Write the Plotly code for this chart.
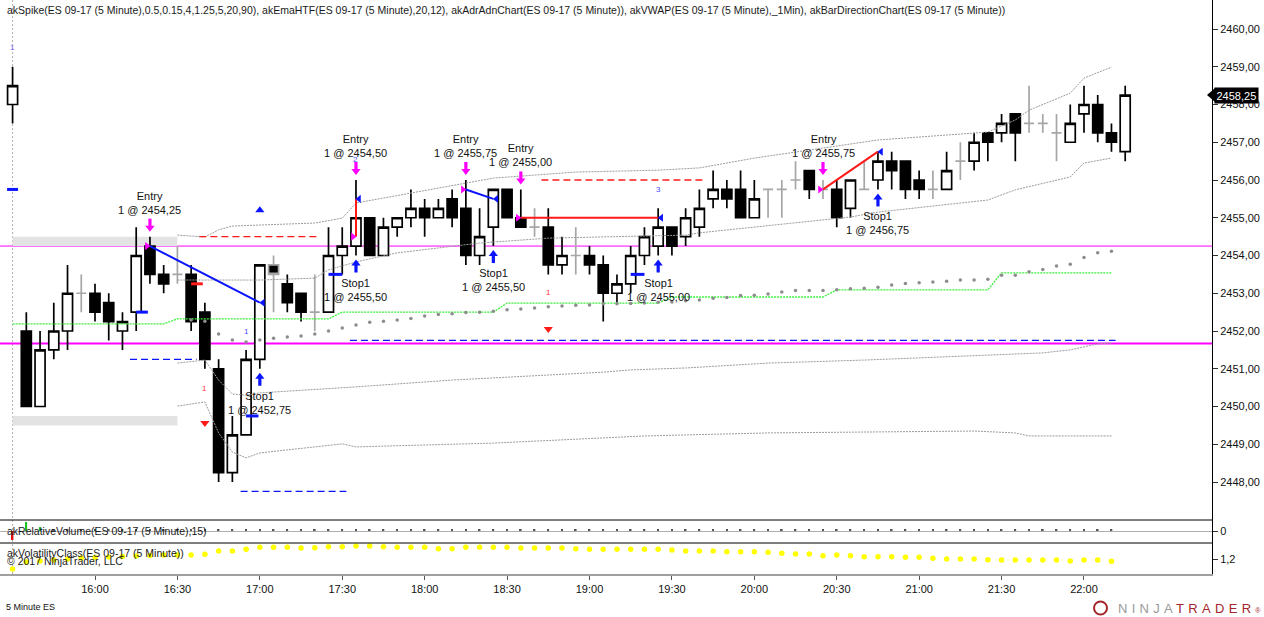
import plotly.graph_objects as go

# ---------------- data ----------------
time_labels = ["16:00", "16:30", "17:00", "17:30", "18:00", "18:30", "19:00",
               "19:30", "20:00", "20:30", "21:00", "21:30", "22:00"]
time_label_bars = [6, 12, 18, 24, 30, 36, 42, 48, 54, 60, 66, 72, 78]
price_ticks = [2448, 2449, 2450, 2451, 2452, 2453, 2454, 2455, 2456, 2457, 2458, 2459, 2460]

opens = [2458.0, 2452.0, 2450.0, 2451.5, 2452.0, 2453.0, 2453.0, 2452.75, 2452.0, 2452.5,
         2454.25, 2453.5, 2453.5, 2453.5, 2452.5, 2451.0, 2448.25, 2449.25, 2451.25, 2453.75,
         2453.25, 2453.0, 2452.5, 2452.5, 2454.0, 2454.25, 2455.0, 2454.0, 2454.75, 2455.0,
         2455.25, 2455.0, 2455.5, 2455.25, 2454.0, 2454.75, 2455.75, 2455.0, 2454.75, 2454.75,
         2453.75, 2454.0, 2454.0, 2453.75, 2453.0, 2453.25, 2454.0, 2454.25, 2454.75, 2454.5,
         2454.75, 2455.5, 2455.75, 2455.75, 2455.0, 2455.75, 2455.75, 2456.0, 2456.25, 2455.75,
         2455.75, 2455.25, 2455.75, 2456.0, 2456.5, 2456.5, 2456.0, 2455.75, 2455.75, 2456.5,
         2456.5, 2457.25, 2457.25, 2457.75, 2457.5, 2457.5, 2457.25, 2457.0, 2457.75, 2458.0,
         2457.25, 2456.75]
highs = [2459.0, 2452.5, 2452.0, 2452.75, 2453.75, 2453.5, 2453.25, 2453.0, 2452.5, 2454.75,
         2454.5, 2453.75, 2454.25, 2453.75, 2452.75, 2451.25, 2449.75, 2451.5, 2453.75, 2454.0,
         2453.5, 2453.0, 2453.5, 2454.75, 2454.75, 2456.0, 2455.0, 2455.0, 2455.0, 2455.75,
         2455.5, 2455.5, 2455.75, 2456.0, 2455.25, 2455.75, 2455.75, 2455.75, 2455.25, 2455.25,
         2454.5, 2454.75, 2454.25, 2454.0, 2453.5, 2454.25, 2454.75, 2455.25, 2454.75, 2455.25,
         2455.75, 2456.25, 2456.0, 2456.25, 2456.0, 2455.75, 2456.0, 2456.5, 2456.25, 2456.0,
         2456.0, 2456.0, 2456.5, 2456.75, 2456.75, 2456.5, 2456.25, 2456.25, 2456.75, 2457.0,
         2457.25, 2457.25, 2457.75, 2457.75, 2458.5, 2457.75, 2457.75, 2458.0, 2458.5, 2458.25,
         2457.5, 2458.5]
lows = [2457.5, 2450.0, 2450.0, 2451.25, 2451.5, 2452.5, 2452.25, 2451.75, 2451.5, 2452.0,
        2453.25, 2453.0, 2453.25, 2452.0, 2451.0, 2448.0, 2448.0, 2449.25, 2451.0, 2452.5,
        2452.5, 2452.25, 2452.0, 2452.5, 2453.5, 2454.0, 2454.0, 2454.0, 2454.5, 2454.75,
        2454.5, 2455.0, 2454.75, 2453.75, 2453.75, 2454.25, 2455.0, 2454.75, 2454.5, 2453.5,
        2453.5, 2453.5, 2453.5, 2452.25, 2452.75, 2453.0, 2453.75, 2454.0, 2454.0, 2454.25,
        2454.5, 2455.25, 2455.25, 2455.0, 2455.0, 2455.0, 2455.0, 2455.75, 2455.5, 2455.5,
        2454.75, 2455.0, 2455.75, 2455.75, 2455.75, 2455.5, 2455.5, 2455.5, 2455.75, 2456.0,
        2456.25, 2456.5, 2457.0, 2456.5, 2457.25, 2457.25, 2456.5, 2457.0, 2457.25, 2457.0,
        2456.75, 2456.5]
closes = [2458.5, 2450.0, 2451.5, 2452.0, 2453.0, 2453.0, 2452.5, 2452.25, 2452.25, 2454.0,
          2453.5, 2453.25, 2453.5, 2452.25, 2451.25, 2448.25, 2449.25, 2451.25, 2453.75, 2453.5,
          2452.75, 2452.5, 2452.5, 2454.0, 2454.25, 2455.0, 2454.0, 2454.75, 2455.0, 2455.25,
          2455.0, 2455.25, 2455.0, 2454.0, 2454.5, 2455.75, 2455.0, 2454.75, 2454.75, 2453.75,
          2454.0, 2454.0, 2453.75, 2453.0, 2453.25, 2454.0, 2454.5, 2454.75, 2454.25, 2455.0,
          2455.25, 2455.75, 2455.5, 2455.0, 2455.5, 2455.75, 2455.75, 2456.0, 2455.75, 2455.75,
          2455.0, 2456.0, 2455.75, 2456.5, 2456.25, 2455.75, 2455.75, 2455.75, 2456.25, 2456.5,
          2457.0, 2457.0, 2457.5, 2457.25, 2457.5, 2457.5, 2457.25, 2457.5, 2458.0, 2457.25,
          2457.0, 2458.25]
gray_bars = [5, 12, 19, 22, 38, 41, 55, 56, 57, 59, 62, 67, 69, 74, 75, 76]

# akEmaHTF (step line vertices)
ema_bars = [0, 11, 12, 23, 24, 35, 36, 47, 48, 59, 60, 71, 72, 80]
ema_vals = [2452.19, 2452.19, 2452.32, 2452.32, 2452.50, 2452.50, 2452.74, 2452.74,
            2452.90, 2452.90, 2453.09, 2453.09, 2453.54, 2453.54]

# akVWAP dots, first dot at bar 13
vwap_first_bar = 13
vwap_vals = [2452.29, 2452.26, 2451.92, 2451.76, 2451.71, 2451.76, 2451.81, 2451.84, 2451.87,
             2451.92, 2452.00, 2452.08, 2452.16, 2452.23, 2452.26, 2452.29, 2452.33, 2452.40,
             2452.44, 2452.46, 2452.49, 2452.50, 2452.52, 2452.56, 2452.58, 2452.61, 2452.64,
             2452.66, 2452.68, 2452.69, 2452.72, 2452.72, 2452.73, 2452.74, 2452.76, 2452.77,
             2452.80, 2452.82, 2452.87, 2452.89, 2452.94, 2452.95, 2452.98, 2453.03, 2453.07,
             2453.07, 2453.07, 2453.09, 2453.12, 2453.13, 2453.16, 2453.22, 2453.26, 2453.28,
             2453.30, 2453.32, 2453.35, 2453.35, 2453.37, 2453.48, 2453.48, 2453.57, 2453.63,
             2453.72, 2453.77, 2453.95, 2454.07, 2454.11]

# akAdrAdnChart bands (vertices)
adr_hi_out_bars = [12, 14, 15, 16, 22, 24, 25, 29, 33, 35, 41, 47, 50, 54, 63, 71, 73, 74, 77, 78, 80]
adr_hi_out_vals = [2454.54, 2454.49, 2454.68, 2454.78, 2454.86, 2454.99, 2455.39, 2455.66, 2455.92,
                   2456.05, 2456.21, 2456.26, 2456.32, 2456.58, 2457.06, 2457.27, 2457.59, 2457.85,
                   2458.30, 2458.70, 2458.99]
adr_hi_in_bars = [12, 18, 22, 23, 25, 28, 34, 39, 49, 50, 61, 63, 71, 73, 77, 78, 80]
adr_hi_in_vals = [2453.35, 2453.35, 2453.40, 2453.62, 2453.83, 2454.07, 2454.33, 2454.46, 2454.54,
                  2454.60, 2455.02, 2455.15, 2455.47, 2455.74, 2456.08, 2456.45, 2456.58]
adr_lo_in_bars = [12, 14, 15, 16, 17, 18, 25, 32, 43, 45, 49, 55, 62, 70, 75, 77, 79, 80]
adr_lo_in_vals = [2451.15, 2451.23, 2450.70, 2450.33, 2450.30, 2450.36, 2450.52, 2450.70, 2450.91,
                  2450.97, 2451.02, 2451.15, 2451.23, 2451.34, 2451.42, 2451.50, 2451.66, 2451.68]
adr_lo_out_bars = [12, 14, 15, 16, 17, 18, 24, 25, 35, 44, 46, 55, 60, 70, 73, 74, 80]
adr_lo_out_vals = [2450.01, 2450.12, 2449.30, 2448.79, 2448.64, 2448.77, 2449.01, 2448.93, 2449.03,
                   2449.19, 2449.22, 2449.30, 2449.32, 2449.35, 2449.30, 2449.22, 2449.22]

# prior-range zones (bar span and price span)
zone_bar_from, zone_bar_to = 0, 12
zone_lo = [2454.25, 2449.50]
zone_hi = [2454.50, 2449.75]

# magenta horizontal levels
magenta_levels = [2454.25, 2451.67]

# dashed levels
dash_from = [8.55, 13.6, 16.6, 24.56, 38.5]
dash_to = [13.4, 22.4, 24.3, 80.3, 50.4]
dash_levels = [2451.25, 2454.50, 2447.75, 2451.75, 2456.00]
dash_kind = ["blue", "red", "blue", "blue", "red"]

# short horizontal marks
mark_from = [-0.4, 9.0, 17.0, 23.0, 45.0, 13.0]
mark_to = [0.4, 9.85, 17.9, 24.0, 46.0, 13.85]
mark_levels = [2455.75, 2452.50, 2449.75, 2453.50, 2453.50, 2453.25]
mark_kind = ["blue", "blue", "blue", "blue", "blue", "red"]

# trades
entry_bars = [10, 25, 33, 37, 59]
entry_prices = [2454.25, 2454.50, 2455.75, 2455.00, 2455.75]
exit_bars = [18, 25, 35, 47, 63]
exit_prices = [2452.75, 2455.50, 2455.50, 2455.00, 2456.75]
trade_kind = ["blue", "red", "blue", "red", "red"]

# small signal numbers
num_bars = [0, 25, 47, 17, 14, 39]
num_prices = [2459.52, 2456.53, 2455.76, 2452.00, 2450.49, 2453.01]
num_texts = ["1", "2", "3", "1", "1", "1"]
num_kind = ["violet", "blue", "blue", "blue", "red", "red"]

# spike triangles
tri_up_bars = [18]
tri_up_prices = [2455.20]
tri_dn_bars = [14, 39]
tri_dn_prices = [2449.56, 2452.05]

# akRelativeVolume
relvol = [-9, 9, 4, 1.5, 1.5, 1.5, 1.5, 1.5, 1.5, 1.5, 1.5, 1.5, 1.5, 1.5, 1.5, 1.5, 1.5, 1.5,
          1.5, 1.5, 1.5, 1.5, 1.5, 1.5, 1.5, 1.5, 1.5, 1.5, 1.5, 1.5, 1.5, 1.5, 1.5, 1.5, 1.5,
          1.5, 1.5, 1.5, 1.5, 1.5, 1.5, 1.5, 1.5, 1.5, 1.5, 1.5, 1.5, 1.5, 1.5, 1.5, 1.5, 1.5,
          1.5, 1.5, 1.5, 1.5, 1.5, 1.5, 1.5, 1.5, 1.5, 1.5, 1.5, 1.5, 1.5, 1.5, 1.5, 1.5, 1.5,
          1.5, 1.5, 1.5, 1.5, 1.5, 1.5, 1.5, 1.5, 2, 2, 2, 2]

# akVolatilityClass
volclass = [1.10, 1.17, 1.18, 1.19, 1.20, 1.21, 1.215, 1.22, 1.225, 1.23, 1.235, 1.24, 1.24,
            1.24, 1.247, 1.28, 1.28, 1.297, 1.317, 1.317, 1.317, 1.31, 1.313, 1.323, 1.323,
            1.33, 1.33, 1.323, 1.317, 1.317, 1.317, 1.303, 1.303, 1.317, 1.317, 1.317, 1.317,
            1.31, 1.31, 1.31, 1.31, 1.303, 1.297, 1.297, 1.297, 1.297, 1.297, 1.297, 1.29,
            1.28, 1.28, 1.28, 1.273, 1.273, 1.273, 1.267, 1.257, 1.25, 1.25, 1.233, 1.24,
            1.233, 1.223, 1.223, 1.223, 1.217, 1.217, 1.207, 1.20, 1.20, 1.20, 1.193, 1.19,
            1.19, 1.19, 1.19, 1.19, 1.18, 1.19, 1.19, 1.177]

title_text = ("akSpike(ES 09-17 (5 Minute),0.5,0.15,4,1.25,5,20,90), akEmaHTF(ES 09-17 (5 Minute),20,12), "
              "akAdrAdnChart(ES 09-17 (5 Minute)), akVWAP(ES 09-17 (5 Minute),_1Min), "
              "akBarDirectionChart(ES 09-17 (5 Minute))")

# ---------------- geometry / style ----------------
W, H = 1264, 617
PLOT_RIGHT = 1212
X0_PX, DX_PX = 12.58, 13.736
P_REF, Y_REF_PX, PX_PER_PT = 2460.0, 29.0, 37.75
MAIN_BOTTOM, P2_BOTTOM, P3_BOTTOM = 520, 543, 574
XR = PLOT_RIGHT / W
FONT = "Liberation Sans, Arial, sans-serif"
COL = {"blue": "#0a14ff", "red": "#ff1a1a", "violet": "#7a55ff", "magenta": "#ff00ff"}
NUMCOL = {"blue": "#4a4aff", "red": "#ff3030", "violet": "#7a55ff"}
PT = 1 / PX_PER_PT  # one pixel in price units


def pyp(px):
    return 1 - px / H


def price_to_paper(p):
    return pyp(Y_REF_PX + (P_REF - p) * PX_PER_PT)


def fmt(p):
    return f"{p:.2f}".replace(".", ",")


x_range = [-X0_PX / DX_PX, (PLOT_RIGHT - X0_PX) / DX_PX]
y_range = [P_REF - (MAIN_BOTTOM - Y_REF_PX) / PX_PER_PT, P_REF + Y_REF_PX / PX_PER_PT]

fig = go.Figure()


def seg_trace(xs, ys, color, width, dash=None):
    line = dict(color=color, width=width)
    if dash:
        line["dash"] = dash
    fig.add_trace(go.Scatter(x=xs, y=ys, mode="lines", line=line, hoverinfo="skip", showlegend=False))


# zones
for lo, hi in zip(zone_lo, zone_hi):
    fig.add_shape(type="rect", xref="x", yref="y", x0=zone_bar_from, x1=zone_bar_to, y0=lo, y1=hi,
                  fillcolor="#e3e3e3", line=dict(width=0), layer="below")

# session divider
fig.add_shape(type="line", xref="x", yref="paper", x0=0, x1=0, y0=pyp(P3_BOTTOM), y1=1,
              line=dict(color="#b0b0b0", width=1, dash="2px,2px"), layer="below")

# magenta levels
for lvl, w in zip(magenta_levels, [1, 2]):
    fig.add_shape(type="line", xref="paper", yref="y", x0=0, x1=XR, y0=lvl, y1=lvl,
                  line=dict(color=COL["magenta"], width=w), layer="below")

# ADR bands
for bx, by in [(adr_hi_out_bars, adr_hi_out_vals), (adr_hi_in_bars, adr_hi_in_vals),
               (adr_lo_in_bars, adr_lo_in_vals), (adr_lo_out_bars, adr_lo_out_vals)]:
    seg_trace(bx, by, "#9c9c9c", 1, "2px,1px")

# EMA HTF
seg_trace(ema_bars, ema_vals, "#3cf03c", 1.3, "2px,1px")

# VWAP dots
fig.add_trace(go.Scatter(x=list(range(vwap_first_bar, vwap_first_bar + len(vwap_vals))), y=vwap_vals,
                         mode="markers", marker=dict(color="#8c8c8c", size=3.5),
                         hoverinfo="skip", showlegend=False))

# dashed levels
for a, b, lvl, k in zip(dash_from, dash_to, dash_levels, dash_kind):
    seg_trace([a, b], [lvl, lvl], COL[k], 1.3, "7px,4px")

# candles
idx_main = [i for i in range(len(opens)) if i not in gray_bars]
fig.add_trace(go.Candlestick(
    x=idx_main, open=[opens[i] for i in idx_main], high=[highs[i] for i in idx_main],
    low=[lows[i] for i in idx_main], close=[closes[i] for i in idx_main],
    increasing=dict(line=dict(color="black", width=1.7), fillcolor="white"),
    decreasing=dict(line=dict(color="black", width=1.7), fillcolor="black"),
    whiskerwidth=0, hoverinfo="skip", showlegend=False))
fig.add_trace(go.Candlestick(
    x=gray_bars, open=[opens[i] for i in gray_bars], high=[highs[i] for i in gray_bars],
    low=[lows[i] for i in gray_bars], close=[closes[i] for i in gray_bars],
    increasing=dict(line=dict(color="#a6a6a6", width=1.7), fillcolor="white"),
    decreasing=dict(line=dict(color="#a6a6a6", width=1.7), fillcolor="black"),
    whiskerwidth=0, hoverinfo="skip", showlegend=False))

# short marks
for a, b, lvl, k in zip(mark_from, mark_to, mark_levels, mark_kind):
    seg_trace([a, b], [lvl, lvl], COL[k], 3)

# trade lines and fill markers
for eb, ep, xb, xp, k in zip(entry_bars, entry_prices, exit_bars, exit_prices, trade_kind):
    seg_trace([eb, xb], [ep, xp], COL[k], 2)
fig.add_trace(go.Scatter(x=[b - 0.22 for b in entry_bars], y=entry_prices, mode="markers",
                         marker=dict(symbol="triangle-right", size=7, color=COL["magenta"]),
                         hoverinfo="skip", showlegend=False))
fig.add_trace(go.Scatter(x=[b + 0.22 for b in exit_bars], y=exit_prices, mode="markers",
                         marker=dict(symbol="triangle-left", size=7, color=COL["blue"]),
                         hoverinfo="skip", showlegend=False))

# spike triangles
fig.add_trace(go.Scatter(x=tri_up_bars, y=tri_up_prices, mode="markers",
                         marker=dict(symbol="triangle-up", size=8, color=COL["blue"]),
                         hoverinfo="skip", showlegend=False))
fig.add_trace(go.Scatter(x=tri_dn_bars, y=tri_dn_prices, mode="markers",
                         marker=dict(symbol="triangle-down", size=8, color=COL["red"]),
                         hoverinfo="skip", showlegend=False))

# order arrows (shaft + head), entries above the high, stops below the low
GAP_E, GAP_S, LEN = 5, 4, 13
sx, sy, hx, hy = [], [], [], []
for b in entry_bars:
    tip = highs[b] + GAP_E * PT
    sx += [b, b, None]
    sy += [tip + 5 * PT, tip + LEN * PT, None]
    hx.append(b)
    hy.append(tip + 4 * PT)
seg_trace(sx, sy, COL["magenta"], 3.2)
fig.add_trace(go.Scatter(x=hx, y=hy, mode="markers", hoverinfo="skip", showlegend=False,
                         marker=dict(symbol="triangle-down", size=8, color=COL["magenta"])))
sx, sy, hx, hy = [], [], [], []
for b in exit_bars:
    tip = lows[b] - GAP_S * PT
    sx += [b, b, None]
    sy += [tip - 5 * PT, tip - LEN * PT, None]
    hx.append(b)
    hy.append(tip - 4 * PT)
seg_trace(sx, sy, COL["blue"], 3.2)
fig.add_trace(go.Scatter(x=hx, y=hy, mode="markers", hoverinfo="skip", showlegend=False,
                         marker=dict(symbol="triangle-up", size=8, color=COL["blue"])))

# relative volume panel
rv_colors = ["#e01010" if v < 0 else ("#20c020" if v > 3 else "#555555") for v in relvol]
fig.add_trace(go.Bar(x=list(range(len(relvol))), y=relvol, yaxis="y2", width=0.12,
                     marker=dict(color=rv_colors, line=dict(width=0)),
                     hoverinfo="skip", showlegend=False))

# volatility class panel
fig.add_trace(go.Scatter(x=list(range(len(volclass))), y=volclass, yaxis="y3", mode="markers",
                         marker=dict(color="#ffff00", size=5.5), hoverinfo="skip", showlegend=False))

ann = []
for b, p in zip(entry_bars, entry_prices):
    ann.append(dict(x=b, y=highs[b], xref="x", yref="y", yshift=GAP_E + LEN + 2, showarrow=False,
                    text=f"Entry<br>1 @ {fmt(p)}", font=dict(family=FONT, size=11, color="#111"),
                    yanchor="bottom", borderpad=0))
for b, p in zip(exit_bars, exit_prices):
    ann.append(dict(x=b, y=lows[b], xref="x", yref="y", yshift=-(GAP_S + LEN + 3), showarrow=False,
                    text=f"Stop1<br>1 @ {fmt(p)}", font=dict(family=FONT, size=11, color="#111"),
                    yanchor="top", borderpad=0))
for b, p, t, k in zip(num_bars, num_prices, num_texts, num_kind):
    ann.append(dict(x=b, y=p, xref="x", yref="y", text=t, showarrow=False,
                    font=dict(family=FONT, size=8, color=NUMCOL[k])))

small = dict(family=FONT, size=10.5, color="#1a1a1a")
ann.append(dict(x=5 / W, y=pyp(10), xref="paper", yref="paper", xanchor="left", yanchor="middle",
                text=title_text, showarrow=False, font=small))
ann.append(dict(x=5 / W, y=pyp(531), xref="paper", yref="paper", xanchor="left", yanchor="middle",
                text="akRelativeVolume(ES 09-17 (5 Minute),15)", showarrow=False, font=small))
ann.append(dict(x=5 / W, y=pyp(553), xref="paper", yref="paper", xanchor="left", yanchor="middle",
                text="akVolatilityClass(ES 09-17 (5 Minute))", showarrow=False, font=small))
ann.append(dict(x=5 / W, y=pyp(561), xref="paper", yref="paper", xanchor="left", yanchor="middle",
                text="© 2017 NinjaTrader, LLC", showarrow=False, font=small))
ann.append(dict(x=4 / W, y=pyp(607), xref="paper", yref="paper", xanchor="left", yanchor="middle",
                text="5 Minute ES", showarrow=False, font=dict(family=FONT, size=9, color="#111")))
# logo
ann.append(dict(x=1263 / W, y=pyp(608), xref="paper", yref="paper", xanchor="right", yanchor="middle",
                text=("<span style='color:#9a9a9a;letter-spacing:4.3px'>NINJA</span>"
                      "<span style='color:#a3262b;letter-spacing:4.3px'>TRADER</span>"
                      "<span style='color:#a3262b;font-size:7px'>®</span>"),
                showarrow=False, font=dict(family=FONT, size=13)))
fig.add_shape(type="circle", xref="paper", yref="paper", x0=1094 / W, x1=1107 / W,
              y0=pyp(614.5), y1=pyp(601.5), line=dict(color="#a3262b", width=2))

# last price tag (pointer + boxed label)
last = closes[-1]
tag_mid = price_to_paper(last)
tag_h = 7 / H
fig.add_shape(type="path", xref="paper", yref="paper",
              path=(f"M {1207 / W},{tag_mid} L {1215 / W},{tag_mid + tag_h} "
                    f"L {1215 / W},{tag_mid - tag_h} Z"),
              fillcolor="black", line=dict(width=0), layer="above")
ann.append(dict(x=1214 / W, y=tag_mid, xref="paper", yref="paper", xanchor="left", yanchor="middle",
                text=fmt(last), showarrow=False, bgcolor="black", borderpad=1.5,
                font=dict(family=FONT, size=11, color="white")))

# panel separators
for yy in [MAIN_BOTTOM, P2_BOTTOM]:
    fig.add_shape(type="line", xref="paper", yref="paper", x0=0, x1=XR, y0=pyp(yy), y1=pyp(yy),
                  line=dict(color="black", width=1))

tickfont = dict(family=FONT, size=11, color="#111")
fig.update_layout(
    template="none",
    width=W, height=H, margin=dict(l=0, r=0, t=0, b=0),
    paper_bgcolor="white", plot_bgcolor="white",
    separators=",.", showlegend=False,
    boxgap=0.27, boxgroupgap=0, barmode="overlay",
    annotations=ann,
    xaxis=dict(domain=[0, XR], range=x_range, anchor="y3", tickvals=time_label_bars, ticktext=time_labels,
               ticks="outside", ticklen=4, tickcolor="#555", showgrid=False, zeroline=False,
               showline=True, linecolor="#a0a0a0", linewidth=2, rangeslider=dict(visible=False),
               tickfont=tickfont, fixedrange=True),
    yaxis=dict(domain=[pyp(MAIN_BOTTOM), 1], range=y_range, side="right", anchor="x",
               tickvals=price_ticks, tickformat=".2f", ticks="outside", ticklen=5, tickcolor="#333",
               showgrid=False, zeroline=False, showline=True, linecolor="black", linewidth=1,
               tickfont=tickfont),
    yaxis2=dict(domain=[pyp(P2_BOTTOM), pyp(MAIN_BOTTOM)], range=[-12, 11], side="right", anchor="x",
                tickvals=[0], ticktext=["0"], ticks="outside", ticklen=5, tickcolor="#333",
                showgrid=False, zeroline=True, zerolinecolor="#b0b0b0", zerolinewidth=1,
                showline=True, linecolor="black", linewidth=1, tickfont=tickfont),
    yaxis3=dict(domain=[pyp(P3_BOTTOM), pyp(P2_BOTTOM)], range=[1.05, 1.36], side="right", anchor="x",
                tickvals=[1.2], tickformat=".1f", ticks="outside", ticklen=5, tickcolor="#333",
                showgrid=False, zeroline=False, showline=True, linecolor="black", linewidth=1,
                tickfont=tickfont),
)

fig.write_html("out.html", config={"displayModeBar": False},
               post_script="document.body.style.margin='0';document.body.style.overflow='hidden';")
